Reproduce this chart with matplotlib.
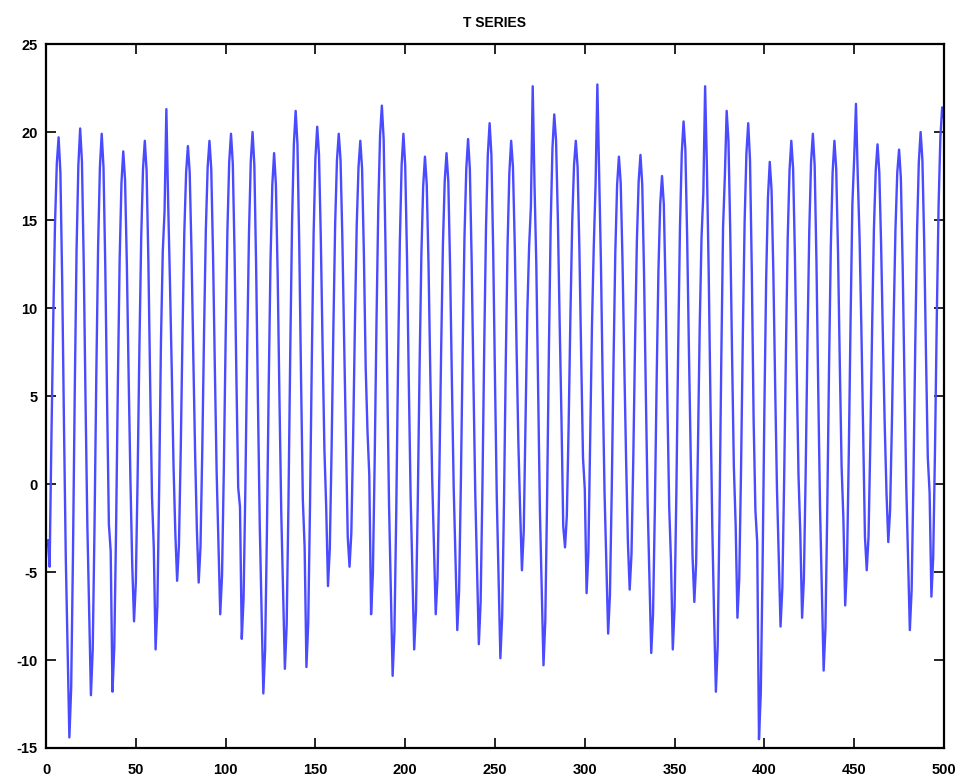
import matplotlib
matplotlib.use("Agg")
import matplotlib.pyplot as plt

# monthly values, one row per year (Jan..Dec)
year_rows = [
    [-3.2, -4.7, 2.6, 9.2, 14.8, 18.2, 19.7, 17.7, 11.5, 3.3, -4.2, -9.3],
    [-14.4, -11.6, -4.0, 5.3, 13.3, 18.1, 20.2, 18.3, 12.5, 4.7, -2.3, -7.2],
    [-12.0, -9.4, -2.4, 6.2, 13.5, 18.0, 19.9, 18.0, 12.3, 4.7, -2.3, -3.8],
    [-11.8, -9.3, -2.6, 5.7, 12.8, 17.1, 18.9, 17.3, 12.5, 6.1, 0.2, -4.6],
    [-7.8, -5.6, 0.4, 7.8, 14.0, 17.9, 19.5, 17.8, 12.6, 5.6, -0.7, -3.6],
    [-9.4, -6.9, -0.2, 8.1, 13.2, 15.5, 21.3, 16.0, 11.5, 6.5, 1.0, -2.8],
    [-5.5, -3.5, 1.9, 8.6, 14.3, 17.7, 19.2, 17.7, 13.2, 7.3, 1.8, -2.6],
    [-5.6, -3.6, 1.9, 8.7, 14.5, 18.0, 19.5, 17.9, 13.0, 6.6, 0.7, -3.3],
    [-7.4, -5.2, 0.8, 8.2, 14.4, 18.3, 19.9, 18.2, 13.0, 6.1, -0.2, -1.3],
    [-8.8, -6.5, -0.2, 7.6, 14.2, 18.3, 20.0, 18.1, 12.3, 4.7, -2.3, -7.1],
    [-11.9, -9.4, -2.7, 5.6, 12.7, 17.0, 18.8, 17.0, 11.8, 4.7, -1.7, -6.1],
    [-10.5, -8.0, -1.0, 7.6, 14.9, 19.3, 21.2, 19.3, 13.6, 6.0, -0.9, -3.6],
    [-10.4, -7.9, -1.2, 7.1, 14.2, 18.5, 20.3, 18.7, 14.0, 7.8, 2.0, -1.3],
    [-5.8, -3.7, 1.9, 8.8, 14.8, 18.4, 19.9, 18.4, 14.0, 8.1, 2.7, -3.0],
    [-4.7, -2.8, 2.6, 9.1, 14.7, 18.0, 19.5, 17.9, 13.0, 6.6, 3.0, 0.5],
    [-7.4, -5.1, 1.3, 9.1, 15.7, 19.8, 21.5, 19.6, 13.7, 5.9, -1.2, -6.0],
    [-10.9, -8.4, -1.7, 6.7, 13.7, 18.1, 19.9, 18.1, 12.9, 5.8, -0.6, -5.0],
    [-9.4, -7.2, -1.0, 6.6, 13.0, 16.9, 18.6, 17.0, 12.4, 6.1, 0.4, -3.5],
    [-7.4, -5.3, 0.5, 7.5, 13.6, 17.2, 18.8, 17.2, 12.3, 5.8, -0.2, -4.2],
    [-8.3, -6.1, 0.1, 7.6, 14.0, 17.9, 19.6, 17.9, 12.7, 5.8, -0.5, -4.8],
    [-9.1, -6.7, -0.2, 7.8, 14.6, 18.7, 20.5, 18.7, 13.2, 5.9, -0.8, -5.3],
    [-9.9, -7.5, -1.1, 6.9, 13.6, 17.7, 19.5, 18.0, 13.6, 7.8, 2.4, -1.5],
    [-4.9, -2.7, 3.4, 9.8, 13.5, 15.8, 22.6, 17.0, 12.5, 5.5, -1.5, -6.0],
    [-10.3, -7.8, -0.9, 7.5, 14.7, 19.1, 21.0, 19.5, 15.1, 9.2, 3.8, -2.4],
    [-3.6, -1.8, 3.3, 9.6, 14.9, 18.1, 19.5, 18.0, 13.3, 7.2, 1.5, -0.3],
    [-6.2, -3.9, 2.5, 9.0, 13.5, 17.0, 22.7, 17.5, 12.5, 5.5, -0.5, -4.5],
    [-8.5, -6.3, -0.4, 6.9, 13.2, 17.0, 18.6, 17.1, 12.7, 6.8, 1.4, -3.3],
    [-6.0, -4.0, 1.4, 8.1, 13.8, 17.2, 18.7, 17.0, 11.9, 5.1, -1.1, -5.4],
    [-9.6, -7.4, -1.5, 5.8, 12.1, 15.9, 17.5, 15.9, 11.0, 4.6, -1.3, -4.4],
    [-9.4, -7.0, -0.4, 7.7, 14.6, 18.8, 20.6, 19.0, 14.0, 7.5, 1.5, -4.1],
    [-6.7, -4.5, 2.0, 9.0, 14.0, 16.5, 22.6, 18.0, 12.0, 4.5, -2.5, -7.5],
    [-11.8, -9.2, -1.9, 7.0, 14.6, 17.5, 21.2, 19.5, 14.3, 7.4, 1.0, -2.3],
    [-7.6, -5.4, 0.8, 8.4, 14.9, 18.8, 20.5, 18.4, 12.1, 3.7, -1.5, -3.3],
    [-14.5, -11.9, -4.7, 4.2, 11.7, 16.3, 18.3, 16.7, 12.0, 5.6, -0.2, -4.1],
    [-8.1, -5.9, 0.2, 7.6, 14.0, 17.8, 19.5, 17.9, 13.0, 6.5, 0.5, -2.8],
    [-7.6, -5.4, 0.7, 8.1, 14.4, 18.3, 19.9, 18.1, 12.6, 5.3, -1.4, -6.0],
    [-10.6, -8.2, -1.6, 6.6, 13.5, 17.7, 19.5, 17.9, 13.2, 6.8, 1.0, -2.0],
    [-6.9, -4.6, 1.7, 9.3, 15.9, 18.5, 21.6, 17.5, 14.0, 8.9, 3.1, -3.0],
    [-4.9, -3.0, 2.4, 8.9, 14.5, 17.8, 19.3, 17.7, 13.6, 8.3, 3.4, -0.5],
    [-3.3, -1.5, 3.4, 9.4, 14.5, 17.7, 19.0, 17.4, 12.4, 5.9, -0.1, -4.2],
    [-8.3, -6.0, 0.2, 7.8, 14.3, 18.3, 20.0, 18.4, 13.7, 7.3, 1.5, -0.5],
    [-6.4, -4.2, 1.9, 9.4, 15.8, 19.7, 21.4, 20.8],
]

t_series = [v for row in year_rows for v in row]
x_index = list(range(1, len(t_series) + 1))

x_ticks = [0, 50, 100, 150, 200, 250, 300, 350, 400, 450, 500]
y_ticks = [-15, -10, -5, 0, 5, 10, 15, 20, 25]

plt.rcParams["font.family"] = ["Liberation Sans", "DejaVu Sans"]
plt.rcParams["axes.unicode_minus"] = False

fig = plt.figure(figsize=(9.65, 7.83), dpi=100)
ax = fig.add_axes([0.0477, 0.0447, 0.9305, 0.8991])

ax.plot(x_index, t_series, color="#4a4aff", linewidth=1.7)

ax.set_xlim(0, 500)
ax.set_ylim(-15, 25)
ax.set_xticks(x_ticks)
ax.set_yticks(y_ticks)
ax.tick_params(direction="in", length=7, width=1.2, top=True, right=True,
               labelsize=10.5)
ax.tick_params(axis="x", pad=11)
ax.tick_params(axis="y", pad=6)
for lab in ax.get_xticklabels() + ax.get_yticklabels():
    lab.set_fontweight("bold")
for sp in ax.spines.values():
    sp.set_linewidth(1.6)

ax.set_title("T SERIES", fontsize=10, fontweight="bold", pad=12)

fig.savefig("out.png", dpi=100)
